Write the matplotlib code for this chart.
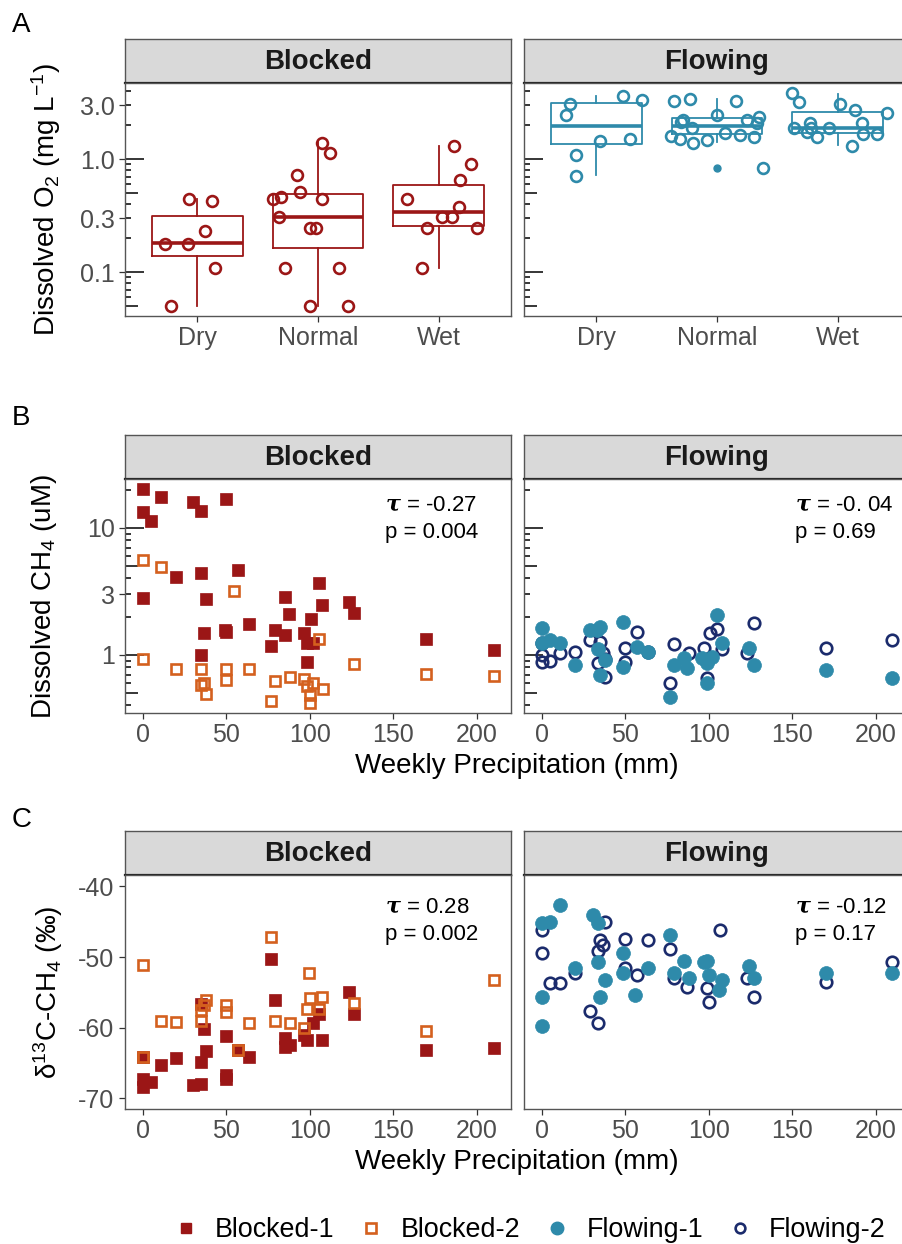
import matplotlib
matplotlib.use("Agg")
import matplotlib.pyplot as plt
from matplotlib.lines import Line2D

plt.rcParams["font.family"] = ["Liberation Sans", "DejaVu Sans"]
plt.rcParams["mathtext.fontset"] = "custom"
plt.rcParams["mathtext.rm"] = "Liberation Sans"
plt.rcParams["mathtext.it"] = "Liberation Sans:italic"
plt.rcParams["mathtext.bf"] = "DejaVu Serif:italic:bold"
plt.rcParams["axes.unicode_minus"] = False

# ---- data ----
categories = ["Dry", "Normal", "Wet"]
sites = ["Blocked", "Flowing"]

# box stats (mg/L): low whisker, q1, median, q3, high whisker
o2_box_blocked = [[0.050, 0.139, 0.181, 0.313, 0.443],
                  [0.050, 0.163, 0.307, 0.49, 1.41],
                  [0.108, 0.255, 0.34, 0.589, 1.30]]
o2_box_flowing = [[0.72, 1.36, 1.96, 3.13, 3.61],
                  [1.42, 1.66, 1.97, 2.31, 3.40],
                  [1.33, 1.70, 1.88, 2.61, 3.76]]
o2_outliers_blocked = [[], [], []]
o2_outliers_flowing = [[], [0.83], []]

o2_blocked = [[0.050, 0.177, 0.177, 0.231, 0.443, 0.425, 0.108],
              [1.39, 1.13, 0.72, 0.51, 0.443, 0.46, 0.443, 0.307, 0.245, 0.245,
               0.108, 0.108, 0.050, 0.050],
              [1.30, 0.90, 0.65, 0.443, 0.376, 0.307, 0.307, 0.245, 0.245, 0.108]]
o2_blocked_jitter = [[-0.22, -0.27, -0.08, 0.06, -0.07, 0.12, 0.15],
                     [0.03, 0.10, -0.17, -0.15, -0.37, -0.31, 0.03, -0.32, -0.07,
                      -0.02, -0.27, 0.17, -0.07, 0.25],
                     [0.13, 0.27, 0.18, -0.26, 0.17, 0.03, 0.11, -0.10, 0.32, -0.14]]
o2_flowing = [[3.07, 2.45, 3.61, 3.33, 1.44, 1.50, 1.08, 0.71],
              [3.26, 3.40, 3.26, 2.45, 2.21, 2.13, 2.35, 2.21, 2.08, 1.88, 1.60,
               1.50, 1.39, 1.47, 1.70, 1.63, 1.57, 0.83],
              [3.84, 3.19, 3.07, 2.72, 2.55, 1.88, 2.08, 1.88, 1.88, 1.73, 1.57,
               2.08, 1.66, 1.66, 1.30]]
o2_flowing_jitter = [[-0.22, -0.25, 0.22, 0.38, 0.03, 0.28, -0.17, -0.17],
                     [-0.36, -0.22, 0.16, 0.0, -0.28, -0.30, 0.35, 0.25, 0.33, -0.21,
                      -0.38, -0.31, -0.20, -0.08, 0.07, 0.19, 0.31, 0.38],
                     [-0.38, -0.32, 0.02, 0.14, 0.41, -0.36, -0.23, -0.22, -0.07,
                      -0.25, -0.17, 0.20, 0.21, 0.33, 0.12]]

# panel B: dissolved CH4 (uM) vs weekly precipitation (mm)
b1_precip = [0, 0, 5, 11, 30, 35, 50, 0, 20, 35, 57, 38, 36.5, 35, 49.5, 50, 64,
             85, 87.5, 79.5, 85, 77, 96.5, 98.5, 102, 101, 105.5, 107.5, 98.5,
             123.5, 126.5, 169.5, 210.5]
b1_ch4 = [20.3, 13.4, 11.4, 17.5, 16.0, 13.6, 16.9, 2.81, 4.11, 4.43, 4.67, 2.76,
          1.49, 1.0, 1.57, 1.52, 1.75, 2.86, 2.10, 1.57, 1.44, 1.18, 1.49, 1.24,
          1.24, 1.92, 3.69, 2.48, 0.88, 2.61, 2.14, 1.34, 1.09]
b2_precip = [0, 11, 55, 0, 20, 35, 35, 37, 38, 50, 50, 64, 77, 79, 88, 96.5, 98.5,
             100, 100, 102, 108, 105.5, 126.5, 169.5, 210.5]
b2_ch4 = [5.6, 4.93, 3.19, 0.93, 0.78, 0.78, 0.58, 0.60, 0.49, 0.78, 0.64, 0.78,
          0.43, 0.62, 0.67, 0.65, 0.57, 0.48, 0.42, 0.60, 0.54, 1.34, 0.85, 0.71, 0.68]
f1_precip = [0, 0, 5, 11, 20, 29, 35, 33, 34, 35, 38, 49, 49, 57, 64, 77, 79, 85,
             87, 96, 99, 99, 102, 105, 108, 124, 127, 170, 210]
f1_ch4 = [1.63, 1.24, 1.31, 1.24, 0.83, 1.57, 1.66, 1.57, 1.11, 0.70, 0.91, 1.82,
          0.80, 1.16, 1.06, 0.47, 0.83, 0.95, 0.79, 0.95, 0.87, 0.60, 0.97, 2.07,
          1.24, 1.14, 0.83, 0.76, 0.66]
f2_precip = [0, 0, 0, 5, 11, 20, 29, 35, 33.5, 36.5, 38, 38, 50, 50, 57, 64, 79,
             77, 88, 97, 99, 101, 105, 108, 123, 127, 170, 210]
f2_ch4 = [1.24, 1.0, 0.88, 0.90, 1.04, 1.06, 1.31, 1.27, 0.87, 1.04, 0.93, 0.67,
          1.14, 0.88, 1.52, 1.06, 1.22, 0.60, 1.04, 1.14, 0.66, 1.49, 1.60, 1.11,
          1.04, 1.79, 1.14, 1.31]

# panel C: d13C-CH4 (permil) vs weekly precipitation (mm)
c_b1_precip = [0, 0, 0, 5, 11, 20, 30, 35, 35, 35, 37, 38, 50, 50, 50, 57, 64, 77,
               79, 85, 88, 85, 96.5, 98.5, 102, 105.5, 107.5, 123.5, 126.5, 169.5, 210.5]
c_b1 = [-64.2, -67.3, -68.4, -67.7, -65.3, -64.3, -68.1, -67.9, -56.6, -64.9, -60.2,
        -63.3, -61.2, -66.7, -67.2, -63.2, -64.2, -50.3, -56.1, -61.5, -62.5, -62.8,
        -61.1, -61.8, -59.4, -58.0, -61.8, -55.0, -58.0, -63.1, -62.9]
c_b2_precip = [0, 0, 11, 20, 35, 35, 37, 38, 50, 50, 57, 64, 77, 79, 88, 96.5, 98.5,
               99.5, 100.5, 105.5, 107.5, 126.5, 169.5, 210.5]
c_b2 = [-51.2, -64.2, -59.1, -59.2, -59.0, -57.5, -56.8, -56.1, -56.8, -57.8, -63.2,
        -59.4, -47.2, -59.0, -59.4, -60.1, -57.4, -52.3, -55.8, -57.4, -55.7, -56.5,
        -60.4, -53.2]
c_f1_precip = [0, 5, 11, 0, 0, 20, 30.5, 34, 34, 38, 35, 49, 49, 56, 64, 77, 79, 85,
               88, 97, 99, 100.5, 106, 108, 124, 127, 170, 210]
c_f1 = [-45.2, -45.1, -42.7, -55.7, -59.8, -51.6, -44.1, -45.2, -50.7, -53.3, -55.6,
        -49.5, -52.3, -55.4, -51.6, -46.9, -52.2, -50.5, -52.9, -50.7, -50.5, -52.6,
        -54.7, -53.3, -51.3, -53.0, -52.3, -52.2]
c_f2_precip = [0, 0, 5, 11, 20, 29, 34, 38, 35, 37, 33.5, 50, 50, 57, 64, 77, 79, 87,
               99, 100.5, 107, 123, 127, 170, 210]
c_f2 = [-46.2, -49.5, -53.7, -53.7, -52.3, -57.7, -59.4, -45.1, -47.6, -48.3, -49.1,
        -47.4, -51.6, -52.6, -47.6, -48.8, -53.0, -54.3, -54.4, -56.4, -46.2, -53.0,
        -55.7, -53.6, -50.7]

stats_b = [("-0.27", "0.004"), ("-0. 04", "0.69")]
stats_c = [("0.28", "0.002"), ("-0.12", "0.17")]

# ---- style ----
RED = "#9B1616"
ORANGE = "#D4601E"
TEAL = "#2E8AAA"
NAVY = "#1B2B6C"
FRAME = "#555555"
TICKC = "#333333"
LABC = "#4D4D4D"

W, H = 902, 1244
fig = plt.figure(figsize=(W / 100, H / 100), dpi=100)


def frame(x0, y0, x1, y1):
    return [x0 / W, 1 - y1 / H, (x1 - x0) / W, (y1 - y0) / H]


COLS = [(125, 511), (524, 910)]
ROWS = {"A": (39, 83, 316), "B": (435, 479, 713), "C": (831, 875, 1109)}


def add_panel(row, col, title):
    top, mid, bot = ROWS[row]
    x0, x1 = COLS[col]
    sax = fig.add_axes(frame(x0, top, x1, mid))
    sax.set_facecolor("#D9D9D9")
    sax.set_xticks([])
    sax.set_yticks([])
    for sp in sax.spines.values():
        sp.set_color(FRAME)
        sp.set_linewidth(1.0)
    sax.spines["bottom"].set_color("#222222")
    sax.spines["bottom"].set_linewidth(1.6)
    sax.text(0.5, 0.48, title, ha="center", va="center", fontsize=20,
             fontweight="bold", color="#1A1A1A", transform=sax.transAxes)
    ax = fig.add_axes(frame(x0, mid, x1, bot))
    for sp in ax.spines.values():
        sp.set_color(FRAME)
        sp.set_linewidth(1.0)
    ax.tick_params(length=4.5, width=0.9, color=TICKC, labelcolor=LABC,
                   labelsize=18, pad=3)
    return ax


def logticks(ax, lo, hi):
    tr = ax.get_yaxis_transform()
    for k in range(-3, 3):
        for m in range(1, 10):
            v = m * 10.0 ** k
            if lo <= v <= hi:
                ln = 0.049 if m == 1 else (0.033 if m == 5 else 0.016)
                ax.plot([0, ln], [v, v], transform=tr, color="black", lw=1.1,
                        solid_capstyle="butt")


# ---- panel A ----
o2_lim = (0.041, 4.7)
groups = [(o2_box_blocked, o2_outliers_blocked, o2_blocked, o2_blocked_jitter, RED),
          (o2_box_flowing, o2_outliers_flowing, o2_flowing, o2_flowing_jitter, TEAL)]
for col, (boxes, outl, vals, jit, color) in enumerate(groups):
    ax = add_panel("A", col, sites[col])
    ax.set_yscale("log")
    stats = [dict(whislo=b[0], q1=b[1], med=b[2], q3=b[3], whishi=b[4], fliers=f)
             for b, f in zip(boxes, outl)]
    ax.bxp(stats, positions=[1, 2, 3], widths=0.75, showcaps=False,
           boxprops=dict(color=color, lw=1.3),
           whiskerprops=dict(color=color, lw=1.3),
           medianprops=dict(color=color, lw=2.6, solid_capstyle="butt"),
           flierprops=dict(marker="o", markersize=5, markerfacecolor=color,
                           markeredgecolor=color))
    for i in range(3):
        xs = [i + 1 + j for j in jit[i]]
        ax.plot(xs, vals[i], ls="none", marker="o", ms=7.8, mfc="none",
                mec=color, mew=1.9, zorder=4)
    ax.set_xlim(0.4, 3.6)
    ax.set_ylim(*o2_lim)
    ax.set_xticks([1, 2, 3], categories)
    ax.yaxis.set_minor_locator(matplotlib.ticker.NullLocator())
    ax.set_yticks([0.1, 0.3, 1.0, 3.0])
    if col == 0:
        ax.set_yticklabels(["0.1", "0.3", "1.0", "3.0"])
        ax.set_ylabel("Dissolved O$_2$ (mg L$^{-1}$)", fontsize=20, color="black")
        ax.yaxis.set_label_coords(-0.16, 0.5)
    else:
        ax.tick_params(axis="y", left=False, labelleft=False)
    logticks(ax, *o2_lim)

# ---- panels B and C ----
x_lim = (-10.5, 220.5)
ch4_lim = (0.349, 24.3)
d13_lim = (-71.5, -38.4)
series_b = [[(b1_precip, b1_ch4, "s", RED, True), (b2_precip, b2_ch4, "s", ORANGE, False)],
            [(f2_precip, f2_ch4, "o", NAVY, False), (f1_precip, f1_ch4, "o", TEAL, True)]]
series_c = [[(c_b1_precip, c_b1, "s", RED, True), (c_b2_precip, c_b2, "s", ORANGE, False)],
            [(c_f2_precip, c_f2, "o", NAVY, False), (c_f1_precip, c_f1, "o", TEAL, True)]]


def draw_points(ax, series):
    for xs, ys, mk, color, filled in series:
        if filled:
            ms = 8.3 if mk == "s" else 10.0
            ax.plot(xs, ys, ls="none", marker=mk, ms=ms, mfc=color, mec=color,
                    mew=0.5, zorder=3)
        else:
            ms = 7.6 if mk == "s" else 8.3
            ax.plot(xs, ys, ls="none", marker=mk, ms=ms, mfc="none", mec=color,
                    mew=1.9, zorder=3)


def annotate(ax, tau, p, x, y1, y2):
    ax.text(x, y1, r"$\mathbf{\tau}$ = " + tau, transform=ax.transAxes,
            fontsize=16, va="center", ha="left")
    ax.text(x, y2, "p = " + p, transform=ax.transAxes, fontsize=16,
            va="center", ha="left")


for col in range(2):
    ax = add_panel("B", col, sites[col])
    ax.set_yscale("log")
    draw_points(ax, series_b[col])
    ax.set_xlim(*x_lim)
    ax.set_ylim(*ch4_lim)
    ax.set_xticks([0, 50, 100, 150, 200])
    ax.yaxis.set_minor_locator(matplotlib.ticker.NullLocator())
    ax.set_yticks([1, 3, 10])
    if col == 0:
        ax.set_yticklabels(["1", "3", "10"])
        ax.set_ylabel("Dissolved CH$_4$ (uM)", fontsize=20, color="black")
        ax.yaxis.set_label_coords(-0.172, 0.5)
    else:
        ax.tick_params(axis="y", left=False, labelleft=False)
    logticks(ax, *ch4_lim)
    annotate(ax, stats_b[col][0], stats_b[col][1], 0.673 if col == 0 else 0.702,
             0.888, 0.772)

for col in range(2):
    ax = add_panel("C", col, sites[col])
    draw_points(ax, series_c[col])
    ax.set_xlim(*x_lim)
    ax.set_ylim(*d13_lim)
    ax.set_xticks([0, 50, 100, 150, 200])
    ax.set_yticks([-70, -60, -50, -40])
    if col == 0:
        ax.set_ylabel("δ$^{13}$C-CH$_4$ (‰)", fontsize=20, color="black")
        ax.yaxis.set_label_coords(-0.155, 0.5)
    else:
        ax.tick_params(axis="y", left=False, labelleft=False)
    annotate(ax, stats_c[col][0], stats_c[col][1], 0.673 if col == 0 else 0.702,
             0.864, 0.746)

for ypx in (766, 1162):
    fig.text(517 / W, 1 - ypx / H, "Weekly Precipitation (mm)", ha="center",
             va="center", fontsize=20)

for letter, ypx in (("A", 25), ("B", 418), ("C", 820)):
    fig.text(12 / W, 1 - ypx / H, letter, ha="left", va="center", fontsize=20)

handles = [
    Line2D([], [], ls="none", marker="s", ms=7, mfc=RED, mec=RED),
    Line2D([], [], ls="none", marker="s", ms=7, mfc="none", mec=ORANGE, mew=1.9),
    Line2D([], [], ls="none", marker="o", ms=9, mfc=TEAL, mec=TEAL),
    Line2D([], [], ls="none", marker="o", ms=7, mfc="none", mec=NAVY, mew=1.9),
]
fig.legend(handles, ["Blocked-1", "Blocked-2", "Flowing-1", "Flowing-2"],
           loc="center", bbox_to_anchor=(529 / W, 1 - 1230 / H), ncol=4,
           frameon=False, fontsize=19.4, handlelength=1.0, handletextpad=0.6,
           columnspacing=0.85)

fig.savefig("out.png", dpi=100)
